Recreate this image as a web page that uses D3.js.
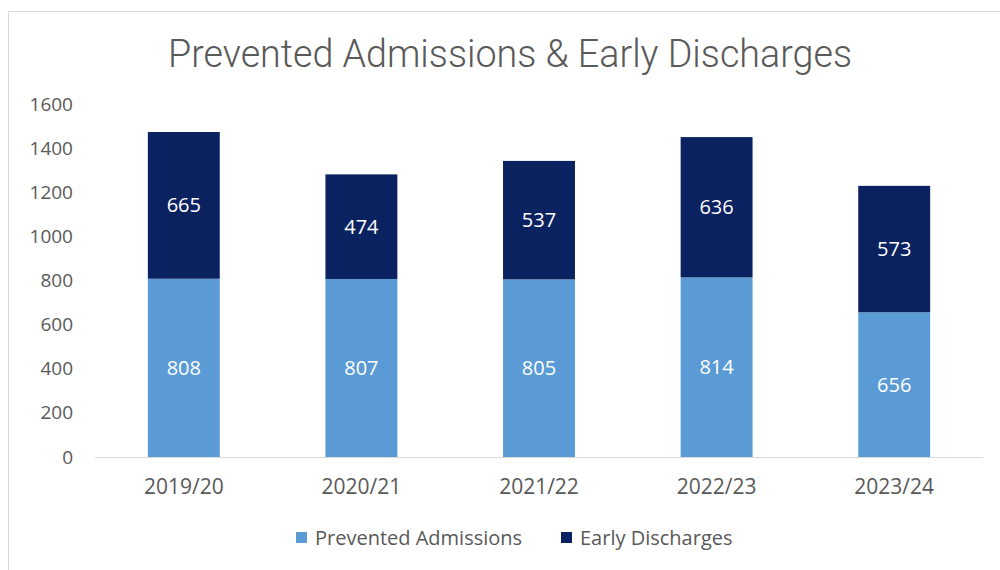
<!DOCTYPE html>
<html>
<head>
<meta charset="utf-8">
<script src="https://cdn.jsdelivr.net/npm/d3@7"></script>
<style>
  body { margin: 0; background: #fff; }
  svg { display: block; font-family: "Open Sans", sans-serif; }
</style>
</head>
<body>
<svg width="1000" height="570"></svg>
<script>
var years = ["2019/20", "2020/21", "2021/22", "2022/23", "2023/24"];
var prevented = [808, 807, 805, 814, 656];
var discharges = [665, 474, 537, 636, 573];
var seriesNames = ["Prevented Admissions", "Early Discharges"];
var colours = ["#5b9bd5", "#0b2260"];
var yTicks = [0, 200, 400, 600, 800, 1000, 1200, 1400, 1600];

var svg = d3.select("svg");

// outer chart border
svg.append("rect")
    .attr("x", 8.5).attr("y", 11.5)
    .attr("width", 1000).attr("height", 600)
    .attr("fill", "none")
    .attr("stroke", "#d9d9d9");

svg.append("text")
    .attr("x", 510)
    .attr("y", 67)
    .attr("text-anchor", "middle")
    .attr("font-family", "Roboto")
    .attr("font-weight", 300)
    .attr("font-size", "38px")
    .attr("textLength", 684)
    .attr("lengthAdjust", "spacingAndGlyphs")
    .attr("fill", "#595959")
    .text("Prevented Admissions & Early Discharges");

var x = d3.scaleBand().domain(years).range([95, 983]).paddingInner(0.595).paddingOuter(0.2975),
    y = d3.scaleLinear().domain([0, 1600]).range([457, 104]);

var data = years.map(function(d, i) {
    return { year: d, prevented: prevented[i], discharges: discharges[i] };
});
var stack = d3.stack().keys(["prevented", "discharges"])(data);

// y axis labels, no line
var yAxis = svg.append("g")
    .attr("transform", "translate(78,0)")
    .call(d3.axisLeft(y).tickValues(yTicks).tickFormat(d3.format("d")).tickSize(0).tickPadding(5));
yAxis.select(".domain").remove();
yAxis.selectAll("text")
    .attr("font-size", "19px")
    .attr("font-family", "Open Sans")
    .attr("fill", "#595959");

var xAxis = svg.append("g")
    .attr("transform", "translate(0," + y(0) + ")")
    .call(d3.axisBottom(x).tickSize(0).tickPadding(22));
xAxis.select(".domain").attr("stroke", "#d9d9d9").attr("d", "M95,0.5H983");
xAxis.selectAll("text")
    .attr("font-size", "21px")
    .attr("font-family", "Open Sans")
    .attr("fill", "#595959");

var layers = svg.selectAll(".layer")
    .data(stack)
    .enter().append("g")
    .attr("class", "layer")
    .attr("fill", function(d, i) { return colours[i]; });

layers.selectAll("rect")
    .data(function(d) { return d; })
    .enter().append("rect")
    .attr("x", function(d) { return x(d.data.year); })
    .attr("y", function(d) { return y(d[1]); })
    .attr("width", x.bandwidth())
    .attr("height", function(d) { return y(d[0]) - y(d[1]); });

layers.selectAll(".val")
    .data(function(d) { return d; })
    .enter().append("text")
    .attr("class", "val")
    .attr("x", function(d) { return x(d.data.year) + x.bandwidth() / 2; })
    .attr("y", function(d) { return (y(d[0]) + y(d[1])) / 2; })
    .attr("dy", "0.35em")
    .attr("text-anchor", "middle")
    .attr("font-size", "20px")
    .attr("fill", "#ffffff")
    .text(function(d) { return d[1] - d[0]; });

// legend
var legend = svg.append("g").attr("transform", "translate(0,538)");
var legendX = [296, 561];
seriesNames.forEach(function(name, i) {
    legend.append("rect")
        .attr("x", legendX[i]).attr("y", -6)
        .attr("width", 11).attr("height", 11)
        .attr("fill", colours[i]);
    legend.append("text")
        .attr("x", legendX[i] + 19)
        .attr("y", 0)
        .attr("dy", "0.35em")
        .attr("font-size", "20px")
        .attr("fill", "#595959")
        .text(name);
});
</script>
</body>
</html>
